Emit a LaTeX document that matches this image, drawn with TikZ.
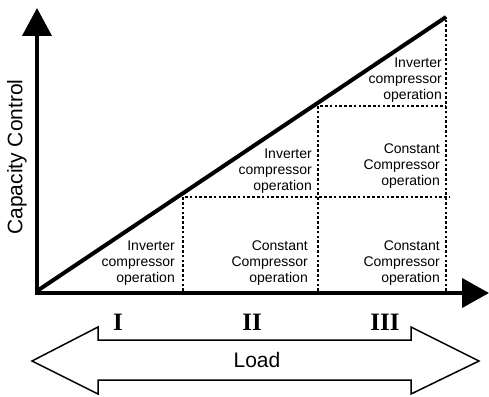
\documentclass[tikz,border=0pt]{standalone}
\usepackage{fontspec}
\setmainfont{Liberation Sans}
\newfontfamily\numfont{Liberation Serif}
\usetikzlibrary{arrows.meta}
\tikzset{
  axis/.style={line width=4pt, line join=miter, {Triangle[length=28pt,width=29pt]}-{Triangle[length=27pt,width=29pt]}},
  guide/.style={line width=2.6pt, dash pattern=on 2.6pt off 2.2pt},
  zone/.style={align=right, anchor=east, inner sep=0pt, font=\fontsize{14}{16}\selectfont},
  stage/.style={font=\numfont\bfseries\fontsize{25}{25}\selectfont},
}
\begin{document}
\begin{tikzpicture}[x=1pt, y=-1pt]
\useasboundingbox (0,0) rectangle (489,396);
\coordinate (O) at (37,293);
\coordinate (ytop) at (37,8);
\coordinate (xend) at (489,293);
\coordinate (top) at (446,17);
\draw[axis] (ytop) -- (O) -- (xend);
\draw[line width=4pt] (37,291) -- (top);
% region borders
\draw[guide] (183,291) -- (183,197) -- (450,197);
\draw[guide] (318,291) -- (318,106) -- (446,106);
\draw[guide] (446,291) -- (top);
\node[zone] (inv1) at (175,263) {Inverter\\compressor\\operation};
\node[zone] (con2) at (308,263) {Constant\\Compressor\\operation};
\node[zone] (con3) at (440,263) {Constant\\Compressor\\operation};
\node[zone] (inv2) at (312,171) {Inverter\\compressor\\operation};
\node[zone] (con3b) at (440,166) {Constant\\Compressor\\operation};
\node[zone] (inv3) at (442,80) {Inverter\\compressor\\operation};
\node[rotate=90, font=\fontsize{21}{21}\selectfont] (ylabel) at (17,157) {Capacity Control};
\node[stage] (s1) at (118,322) {I};
\node[stage] (s2) at (252,322) {II};
\node[stage] (s3) at (385,322) {III};
% load arrow
\draw[line width=1.5pt, line join=miter] (32,361) -- (98,327) -- (98,340) -- (411,340) -- (411,327)
  -- (479,361) -- (411,394) -- (411,380) -- (98,380) -- (98,394) -- cycle;
\node[font=\fontsize{21}{21}\selectfont] (load) at (257,360) {Load};
\end{tikzpicture}
\end{document}
